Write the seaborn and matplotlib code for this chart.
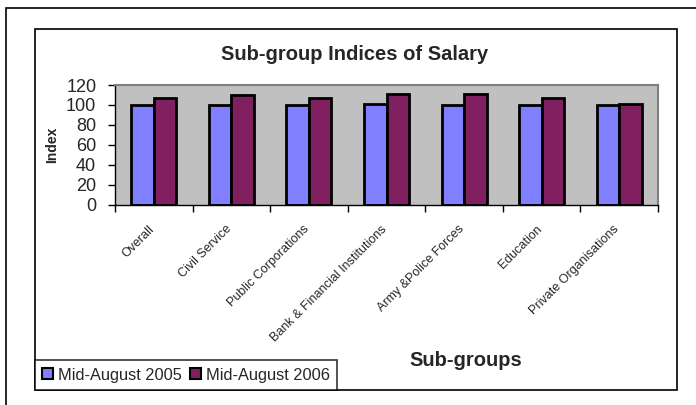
import matplotlib
matplotlib.use("Agg")
import matplotlib.pyplot as plt
from matplotlib.patches import Rectangle
from matplotlib.transforms import ScaledTranslation
import seaborn as sns
import pandas as pd
import numpy as np

categories = ["Overall", "Civil Service", "Public Corporations",
              "Bank & Financial Institutions", "Army &Police Forces",
              "Education", "Private Organisations"]
series_names = ["Mid-August 2005", "Mid-August 2006"]
values_2005 = [100, 100, 100, 101, 100, 100, 100]
values_2006 = [106.5, 109.5, 106.8, 110.5, 111.3, 107, 101]
y_ticks = [0, 20, 40, 60, 80, 100, 120]
colors = ["#8080FF", "#802060"]

df = pd.DataFrame({
    "Sub-group": categories * 2,
    "Period": [series_names[0]] * len(categories) + [series_names[1]] * len(categories),
    "Index": values_2005 + values_2006,
})

sns.set_style("white")
plt.rcParams["font.family"] = ["Liberation Sans", "DejaVu Sans"]

W, H = 696, 405
fig = plt.figure(figsize=(W / 100, H / 100), dpi=100)
fig.patch.set_facecolor("white")

def fx(px):
    return px / W

def fy(py):
    return 1 - py / H

ax = fig.add_axes([fx(115), fy(204.5), fx(658) - fx(115), fy(85) - fy(204.5)])
sns.barplot(data=df, x="Sub-group", y="Index", hue="Period", palette=colors,
            width=0.58, edgecolor="black", linewidth=2, ax=ax, legend=False,
            order=categories, hue_order=series_names, saturation=1)
ax.set_facecolor("#C0C0C0")
ax.set_xlim(-0.5, len(categories) - 0.5)
ax.set_ylim(0, 120)
ax.set_yticks(y_ticks)
ax.set_yticklabels([str(t) for t in y_ticks], fontsize=13)
ax.tick_params(axis="y", direction="out", length=5, width=1, color="black", pad=8.5, left=True)
ax.set_xticks(range(len(categories)))
ax.set_xticklabels(categories, rotation=45, ha="right", va="top",
                   rotation_mode="anchor", fontsize=9)
ax.tick_params(axis="x", which="major", length=0, pad=13.5)
offset = ScaledTranslation(-6 / 100, 0, fig.dpi_scale_trans)
for lab in ax.get_xticklabels():
    lab.set_transform(lab.get_transform() + offset)
ax.set_xticks(np.arange(-0.5, len(categories), 1.0), minor=True)
ax.tick_params(axis="x", which="minor", direction="out", length=5, width=1, color="black", bottom=True)
ax.set_xlabel("")
ax.set_ylabel("")
for s in ["top", "right"]:
    ax.spines[s].set_color("#808080")
    ax.spines[s].set_linewidth(1.5)
ax.spines["left"].set_color("black")
ax.spines["bottom"].set_color("black")
ax.spines["left"].set_linewidth(1)
ax.spines["bottom"].set_linewidth(1)

# frames
fig.add_artist(Rectangle((fx(6), -0.2), 1.5, fy(8) + 0.2, transform=fig.transFigure,
                         fill=False, edgecolor="black", linewidth=1.2))
fig.add_artist(Rectangle((fx(35), fy(390)), fx(677) - fx(35), fy(29) - fy(390),
                         transform=fig.transFigure, fill=False, edgecolor="black", linewidth=1.2))

fig.text(fx(354.5), fy(54), "Sub-group Indices of Salary", ha="center", va="center",
         fontsize=14.5, fontweight="bold")
fig.text(fx(52), fy(145), "Index", ha="center", va="center", rotation=90,
         fontsize=10, fontweight="bold")
fig.text(fx(466), fy(361), "Sub-groups", ha="center", va="center",
         fontsize=14.5, fontweight="bold")

handles = [Rectangle((0, 0), 1, 1, facecolor=c, edgecolor="black", linewidth=1.5) for c in colors]
leg = fig.legend(handles, series_names, loc="lower left",
                 bbox_to_anchor=(fx(35), fy(390)), ncol=2, fontsize=11.8,
                 frameon=True, fancybox=False, edgecolor="black",
                 handlelength=0.65, handleheight=0.65, handletextpad=0.3,
                 columnspacing=0.5, borderpad=0.45, borderaxespad=0)
leg.get_frame().set_linewidth(1.2)

fig.savefig("out.png", dpi=100, facecolor="white")
